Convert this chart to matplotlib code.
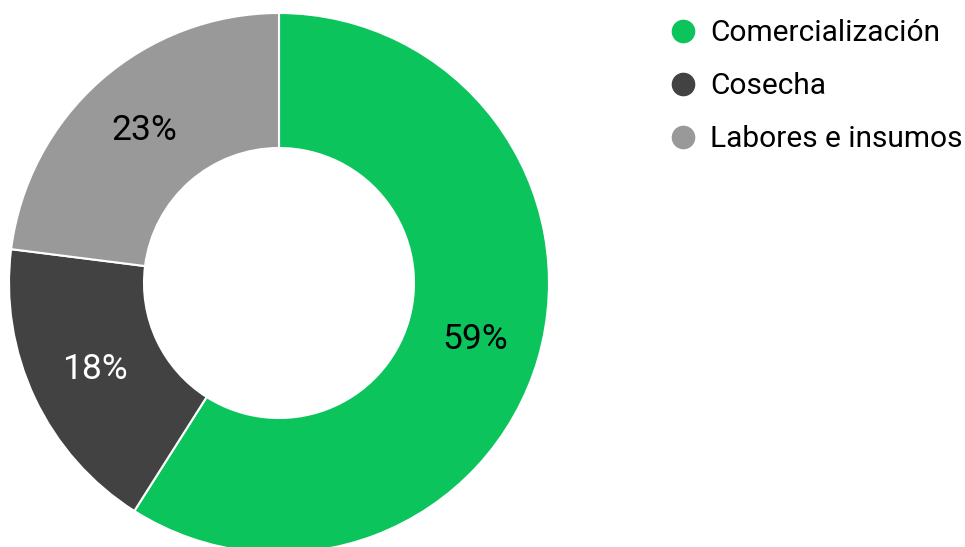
import matplotlib.pyplot as plt
from matplotlib.lines import Line2D

plt.rcParams['font.family'] = ['Roboto', 'DejaVu Sans']

labels = ["Comercialización", "Cosecha", "Labores e insumos"]
values = [59, 18, 23]
colors = ["#0cc45c", "#424242", "#999999"]
text_colors = ["black", "white", "black"]

W, H = 965, 547
fig = plt.figure(figsize=(W / 100, H / 100), dpi=100)
# donut centre at (279, 283) px, radius 270 px
ax = fig.add_axes([9 / W, (H - 283 - 270) / H, 540 / W, 540 / H])
wedges, texts, autotexts = ax.pie(values, colors=colors, startangle=90, counterclock=False,
                                  autopct='%1.0f%%', pctdistance=0.755, radius=1,
                                  wedgeprops=dict(width=0.5, edgecolor='white', linewidth=1.5),
                                  textprops=dict(fontsize=25.5))
for t, c in zip(autotexts, text_colors):
    t.set_color(c)
ax.set_xlim(-1, 1)
ax.set_ylim(-1, 1)
ax.set_aspect('equal')
ax.axis('off')

handles = [Line2D([], [], marker='o', linestyle='none', markersize=16,
                  markerfacecolor=c, markeredgecolor=c) for c in colors]
fig.legend(handles, labels, loc='upper left', bbox_to_anchor=(665 / W, 1 - 19 / H),
           frameon=False, fontsize=21.5, handletextpad=0.3, labelspacing=0.84,
           borderaxespad=0, borderpad=0, handlelength=1.2)

fig.savefig('out.png', dpi=100)
